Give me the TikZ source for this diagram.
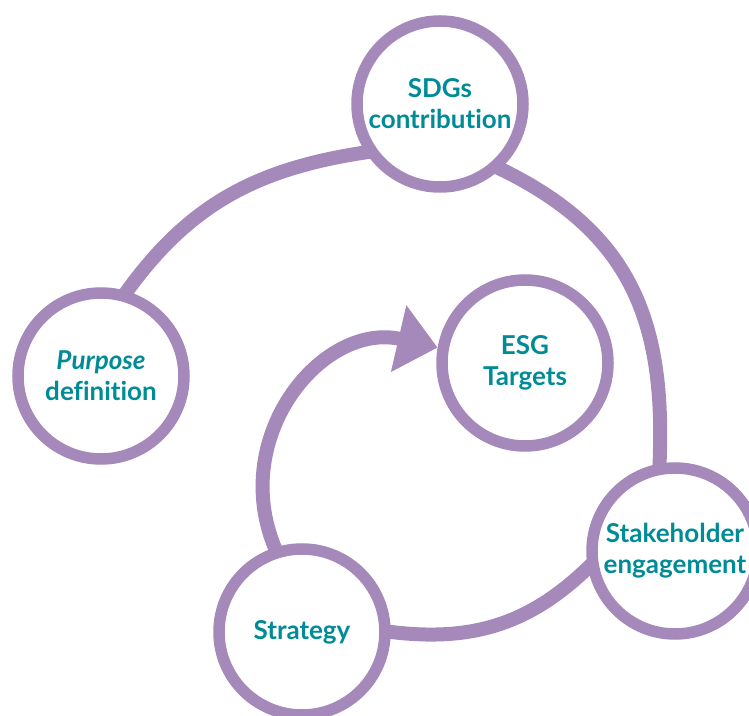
\documentclass[tikz,border=0pt]{standalone}
\usepackage{fontspec}
\setmainfont{Lato}[Ligatures={NoCommon,NoContextual}]
\usepackage{tikz}
\usetikzlibrary{positioning,arrows.meta}
\definecolor{lilac}{RGB}{164,137,186}
\definecolor{tealtext}{RGB}{0,140,150}
\pgfdeclarelayer{back}
\pgfsetlayers{back,main}

\begin{document}
\begin{tikzpicture}[x=1pt,y=1pt]
	\tikzstyle{stage}=[circle, draw=lilac, line width=11.5pt, fill=white, minimum size=166pt,
	inner sep=0pt, align=center, text=tealtext, font=\fontsize{26}{31}\selectfont\bfseries]
	\tikzstyle{flow}=[draw=lilac, line width=14pt]
	\useasboundingbox (0,0) rectangle (749,715);
	\node (SDGs) [stage] at (440,611) {SDGs\\contribution};
	\node (Purpose) [stage] at (101,339) {\textit{Purpose}\\definition};
	\node (ESG) [stage] at (525,352) {ESG\\Targets};
	\node (Stakeholder) [stage] at (675,164) {Stakeholder\\engagement};
	\node (Strategy) [stage] at (302,83) {Strategy};
	
	\begin{pgfonlayer}{back}
	\draw[flow, shorten <=-8pt, shorten >=-8pt] (Purpose.73) to[out=55, in=188] (SDGs.213);
	\draw[flow, shorten <=-8pt, shorten >=-8pt] (SDGs.-47) to[out=-25, in=87, looseness=1.1] (Stakeholder.100);
	\draw[flow, shorten <=-8pt, shorten >=-8pt] (Stakeholder.191) to[out=225, in=-8] (Strategy.east);
	\draw[flow, shorten <=-8pt, -{Triangle[length=40pt,width=66pt]}] (Strategy.108) to[out=115, in=167, looseness=1.18] (ESG.170);
	\end{pgfonlayer}
\end{tikzpicture}
\end{document}
